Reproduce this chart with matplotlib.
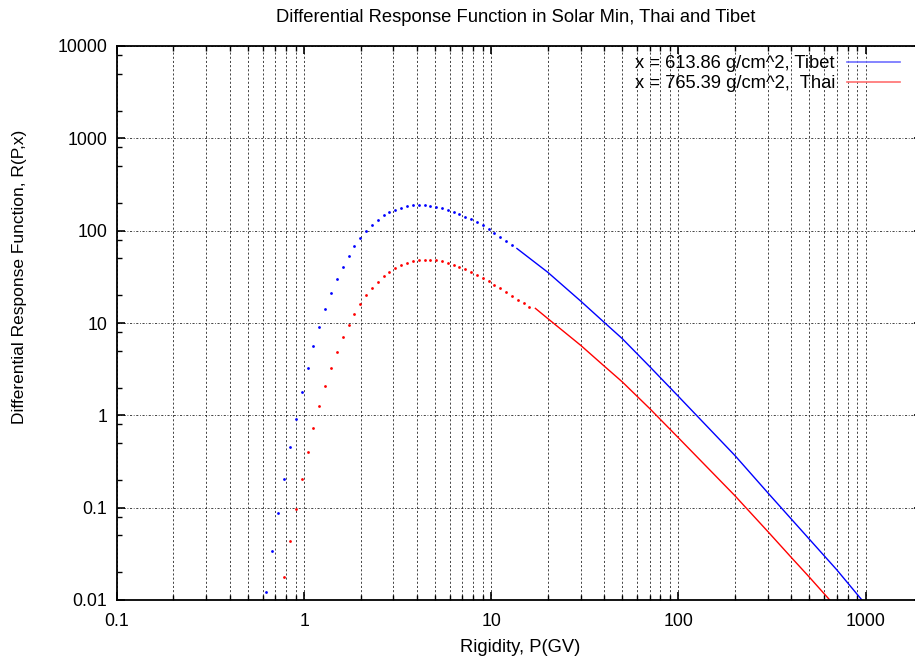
import matplotlib
matplotlib.use('Agg')
import matplotlib.pyplot as plt
from matplotlib.ticker import LogLocator, NullFormatter, FixedLocator
from matplotlib.lines import Line2D

plt.rcParams['font.family'] = ['Liberation Sans', 'DejaVu Sans']

# rigidity grid of the sampled (dotted) part, GV
p_dots = [0.627, 0.675, 0.726, 0.778, 0.839, 0.904, 0.968, 1.042, 1.117, 1.202,
          1.294, 1.390, 1.496, 1.603, 1.726, 1.849, 1.991, 2.138, 2.301, 2.466,
          2.655, 2.851, 3.069, 3.304, 3.540, 3.811, 4.083, 4.395, 4.721, 5.082,
          5.445, 5.834, 6.281, 6.745, 7.261, 7.816, 8.395, 8.974, 9.683, 10.38,
          11.17, 12.02, 12.91, 13.90, 14.89, 15.85]

# Tibet, x = 613.86 g/cm^2
tibet_dots_r = [0.0122, 0.0340, 0.0865, 0.204, 0.450, 0.920, 1.79, 3.27, 5.60, 9.10,
                14.1, 20.9, 29.6, 40.4, 53.1, 67.6, 82.6, 99.1, 116, 132,
                146, 158, 169, 178, 185, 188, 192, 188, 187, 182,
                175, 167, 159, 150, 142, 133, 123, 114, 104, 95.3,
                86.1, 78.0, 70.6]
tibet_line_p = [13.7, 20, 30, 40, 50, 70, 100, 200, 300, 500, 700, 955]
tibet_line_r = [64.1, 35.5, 17.3, 10.2, 6.79, 3.39, 1.60, 0.368, 0.145, 0.0456, 0.0213,
                0.0100]

# Thai, x = 765.39 g/cm^2 (dots start at the 4th rigidity value)
thai_dots_r = [0.0179, 0.0437, 0.0971, 0.204, 0.396, 0.730, 1.26, 2.08, 3.27, 4.86,
               6.97, 9.46, 12.5, 16.1, 19.9, 23.9, 28.0, 32.0, 35.6, 39.4,
               42.5, 45.1, 47.3, 48.1, 48.5, 48.5, 47.6, 46.6, 44.9, 42.9,
               40.6, 38.2, 35.7, 33.2, 30.7, 28.3, 25.9, 23.7, 21.6, 19.7,
               17.9, 16.3, 14.8]
thai_line_p = [17.2, 20, 30, 40, 50, 70, 100, 200, 300, 400, 500, 643]
thai_line_r = [14.4, 11.2, 5.74, 3.43, 2.31, 1.19, 0.570, 0.135, 0.0552, 0.0290,
               0.0177, 0.0100]

legend_labels = ['x = 613.86 g/cm^2, Tibet', 'x = 765.39 g/cm^2,  Thai']

W, H = 915, 661
fig = plt.figure(figsize=(W / 100, H / 100), dpi=100)
ax = fig.add_axes([117 / W, 1 - 600 / H, (922 - 117) / W, (600 - 46) / H])

ax.plot(p_dots[:len(tibet_dots_r)], tibet_dots_r, 'o', color='blue', ms=2.0, mew=0)
ax.plot(p_dots[3:3 + len(thai_dots_r)], thai_dots_r, 'o', color='red', ms=2.0, mew=0)
ax.plot(tibet_line_p, tibet_line_r, '-', color='blue', lw=1.0)
ax.plot(thai_line_p, thai_line_r, '-', color='red', lw=1.0)

ax.set_xscale('log')
ax.set_yscale('log')
ax.set_xlim(0.1, 2000)
ax.set_ylim(0.01, 10000)

ax.xaxis.set_major_locator(FixedLocator([0.1, 1, 10, 100, 1000]))
ax.xaxis.set_minor_locator(LogLocator(base=10, subs=range(2, 10), numticks=20))
ax.yaxis.set_major_locator(FixedLocator([0.01, 0.1, 1, 10, 100, 1000, 10000]))
ax.yaxis.set_minor_locator(LogLocator(base=10, subs=(2, 5, 8), numticks=20))
ax.xaxis.set_minor_formatter(NullFormatter())
ax.yaxis.set_minor_formatter(NullFormatter())
ax.set_xticklabels(['0.1', '1', '10', '100', '1000'])
ax.set_yticklabels(['0.01', '0.1', '1', '10', '100', '1000', '10000'])

ax.tick_params(which='both', direction='in', top=True, right=True, colors='black',
               labelsize=12.8)
ax.tick_params(which='major', length=6, width=1.2)
ax.tick_params(which='minor', length=3.5, width=1.0)
ax.tick_params(axis='x', pad=9)
ax.tick_params(axis='y', pad=7)
for s in ax.spines.values():
    s.set_linewidth(1.3)

ax.grid(True, axis='x', which='both', color='0.15', lw=0.6, ls=(0, (2.5, 2.5)))
ax.grid(True, axis='y', which='major', color='0.15', lw=0.6, ls=(0, (2.5, 2, 1, 2)))

handles = [Line2D([], [], color='#6f6fff', lw=1.2), Line2D([], [], color='#ff6f6f', lw=1.2)]
fig.legend(handles, legend_labels, loc='upper right', bbox_to_anchor=(900 / W, 1 - 55 / H),
           frameon=False, markerfirst=False, handlelength=2.9, handletextpad=0.65,
           labelspacing=0.17, borderpad=0, borderaxespad=0, fontsize=13.2)

fig.text(516 / W, 1 - 17 / H, 'Differential Response Function in Solar Min, Thai and Tibet',
         ha='center', va='center', fontsize=13.2)
fig.text(520 / W, 1 - 647 / H, 'Rigidity, P(GV)', ha='center', va='center', fontsize=13.2)
fig.text(20 / W, 1 - 277 / H, 'Differential Response Function, R(P,x)', rotation=90,
         ha='center', va='center', fontsize=12.5)

fig.savefig('out.png', dpi=100)
